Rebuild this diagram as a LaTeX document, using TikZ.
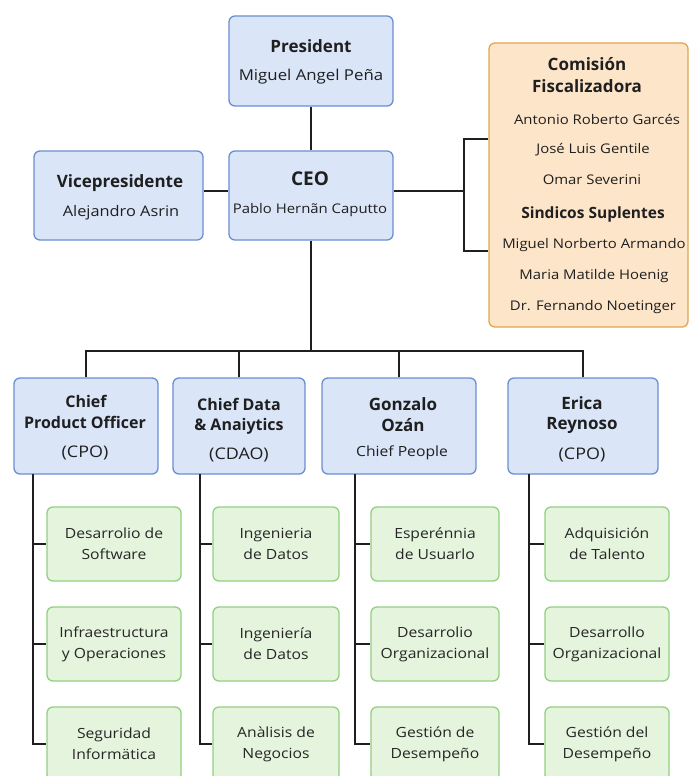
\documentclass[tikz,border=0pt]{standalone}
\usepackage{fontspec}
\setmainfont{Open Sans}
\newfontfamily\wfont{Open Sans}[FakeStretch=1.12]
\begin{document}
\begin{tikzpicture}[x=1pt,y=-1pt,
  bluebox/.style={draw=boxblue,fill=fillblue,line width=1.3pt,rounded corners=6pt,inner sep=0pt},
  orangebox/.style={draw=boxorange,fill=fillorange,line width=1.3pt,rounded corners=6pt,inner sep=0pt},
  greenbox/.style={draw=boxgreen,fill=fillgreen,line width=1.3pt,rounded corners=6pt,inner sep=0pt,
     align=center,font=\wfont\fontsize{14}{21}\selectfont,text=black!85},
  ttl/.style={font=\fontsize{17}{20}\selectfont\bfseries,text=black!88,inner sep=0pt},
  ttlb/.style={font=\fontsize{16}{20}\selectfont\bfseries,text=black!88,inner sep=0pt},
  nm/.style={font=\wfont\fontsize{16}{18}\selectfont,text=black!88,inner sep=0pt},
  sub/.style={font=\wfont\fontsize{14}{18}\selectfont,text=black!88,inner sep=0pt},
  cn/.style={font=\wfont\fontsize{13.3}{18}\selectfont,text=black!88,inner sep=0pt},
  conn/.style={draw=black!88,line width=1.6pt}
]
\definecolor{boxblue}{HTML}{6A8ED2}
\definecolor{fillblue}{HTML}{DAE5F8}
\definecolor{boxorange}{HTML}{E3A64A}
\definecolor{fillorange}{HTML}{FDE5CA}
\definecolor{boxgreen}{HTML}{92D082}
\definecolor{fillgreen}{HTML}{E5F4DD}
\useasboundingbox[fill=white] (0,0) rectangle (689,776);

% top boxes
\node[bluebox,minimum width=164pt,minimum height=90pt] (pres) at (311,61) {};
\node[bluebox,minimum width=169pt,minimum height=89pt] (vice) at (118.5,195.5) {};
\node[bluebox,minimum width=164pt,minimum height=89pt] (ceo) at (311,195.5) {};
\node[orangebox,minimum width=199pt,minimum height=284pt] (com) at (588.5,185) {};

% connectors top
\draw[conn] (pres.south) -- (ceo.north);
\draw[conn] (vice.east |- 0,191) -- (ceo.west |- 0,191);
\coordinate (brk) at (464,191);
\coordinate (brt) at (464,139);
\coordinate (brb) at (464,251);
\draw[conn] (ceo.east |- brk) -- (brk);
\draw[conn] (com.west |- brt) -- (brt) -- (brb) -- (com.west |- brb);

% texts top
\node[ttl] (t-pres1) at (311,46) {President};
\node[sub,font=\wfont\fontsize{15}{18}\selectfont] (t-pres2) at (311,77) {Miguel Angel Peña};
\node[ttl] (t-vice1) at (120,183) {Vicepresidente};
\node[nm,font=\wfont\fontsize{14.6}{18}\selectfont] (t-vice2) at (121,213) {Alejandro Asrin};
\node[ttl,font=\fontsize{19}{20}\selectfont\bfseries] (t-ceo1) at (310,179) {CEO};
\node[sub,font=\wfont\fontsize{13.3}{18}\selectfont] (t-ceo2) at (310,210) {Pablo Hernãn Caputto};

\node[ttl] (t-com1) at (587,64) {Comisión};
\node[ttl] (t-com2) at (587,86) {Fiscalizadora};
\node[cn] (t-com3) at (597,119) {Antonio Roberto Garcés};
\node[cn] (t-com4) at (593,150) {José Luis Gentile};
\node[cn] (t-com5) at (592,180) {Omar Severini};
\node[cn,font=\fontsize{15.5}{18}\selectfont\bfseries] (t-com6) at (593,214) {Sindicos Suplentes};
\node[cn] (t-com7) at (594,245) {Miguel Norberto Armando};
\node[cn] (t-com8) at (594,276) {Maria Matilde Hoenig};
\node[cn] (t-com9) at (593,307) {Dr. Fernando Noetinger};

% second row
\node[bluebox,minimum width=144pt,minimum height=96pt] (cpo) at (86,426) {};
\node[bluebox,minimum width=132pt,minimum height=96pt] (cdao) at (239,426) {};
\node[bluebox,minimum width=154pt,minimum height=96pt] (gon) at (399,426) {};
\node[bluebox,minimum width=150pt,minimum height=96pt] (eri) at (583,426) {};

\coordinate (bus) at (311,351);
\draw[conn] (ceo.south) -- (bus);
\draw[conn] (cpo.north) |- (bus);
\draw[conn] (cdao.north) |- (bus);
\draw[conn] (gon.north) |- (bus);
\draw[conn] (eri.north) |- (bus);

\node[ttlb] (t-cpo1) at (86,401) {Chief};
\node[ttlb] (t-cpo2) at (85,422) {Product Officer};
\node[nm] (t-cpo3) at (85,453) {(CPO)};
\node[ttlb] (t-cdao1) at (239,404) {Chief Data};
\node[ttlb] (t-cdao2) at (239,426) {\& Anaiytics};
\node[nm] (t-cdao3) at (239,455) {(CDAO)};
\node[ttlb,font=\fontsize{17}{20}\selectfont\bfseries] (t-gon1) at (403,404) {Gonzalo};
\node[ttlb,font=\fontsize{17}{20}\selectfont\bfseries] (t-gon2) at (403,425) {Ozán};
\node[sub] (t-gon3) at (402,453) {Chief People};
\node[ttlb,font=\fontsize{17}{20}\selectfont\bfseries] (t-eri1) at (582,403) {Erica};
\node[ttlb,font=\fontsize{17}{20}\selectfont\bfseries] (t-eri2) at (582,425) {Reynoso};
\node[nm] (t-eri3) at (582,455) {(CPO)};

% green boxes
\node[greenbox,minimum width=134pt,minimum height=74pt] (a1) at (114,544) {Desarrolio de\\Software};
\node[greenbox,minimum width=134pt,minimum height=74pt] (a2) at (114,644) {Infraestructura\\y Operaciones};
\node[greenbox,minimum width=134pt,minimum height=74pt] (a3) at (114,744) {Seguridad\\Informätica};
\node[greenbox,minimum width=126pt,minimum height=74pt] (b1) at (276,544) {Ingenieria\\de Datos};
\node[greenbox,minimum width=126pt,minimum height=74pt] (b2) at (276,644) {Ingeniería\\de Datos};
\node[greenbox,minimum width=126pt,minimum height=74pt] (b3) at (276,744) {Anàlisis de\\Negocios};
\node[greenbox,minimum width=128pt,minimum height=74pt] (c1) at (435,544) {Esperénnia\\de Usuarlo};
\node[greenbox,minimum width=128pt,minimum height=74pt] (c2) at (435,644) {Desarrolio\\Organizacional};
\node[greenbox,minimum width=128pt,minimum height=74pt] (c3) at (435,744) {Gestión de\\Desempeño};
\node[greenbox,minimum width=124pt,minimum height=74pt] (d1) at (607,544) {Adquisición\\de Talento};
\node[greenbox,minimum width=124pt,minimum height=74pt] (d2) at (607,644) {Desarrollo\\Organizacional};
\node[greenbox,minimum width=124pt,minimum height=74pt] (d3) at (607,744) {Gestión del\\Desempeño};

% spines
\coordinate (sa) at (33,474);
\coordinate (sb) at (200,474);
\coordinate (sc) at (355,474);
\coordinate (sd) at (529,474);
\draw[conn] (sa) |- (a3.west); \draw[conn] (sa |- a1.west) -- (a1.west); \draw[conn] (sa |- a2.west) -- (a2.west);
\draw[conn] (sb) |- (b3.west); \draw[conn] (sb |- b1.west) -- (b1.west); \draw[conn] (sb |- b2.west) -- (b2.west);
\draw[conn] (sc) |- (c3.west); \draw[conn] (sc |- c1.west) -- (c1.west); \draw[conn] (sc |- c2.west) -- (c2.west);
\draw[conn] (sd) |- (d3.west); \draw[conn] (sd |- d1.west) -- (d1.west); \draw[conn] (sd |- d2.west) -- (d2.west);
\end{tikzpicture}
\end{document}
